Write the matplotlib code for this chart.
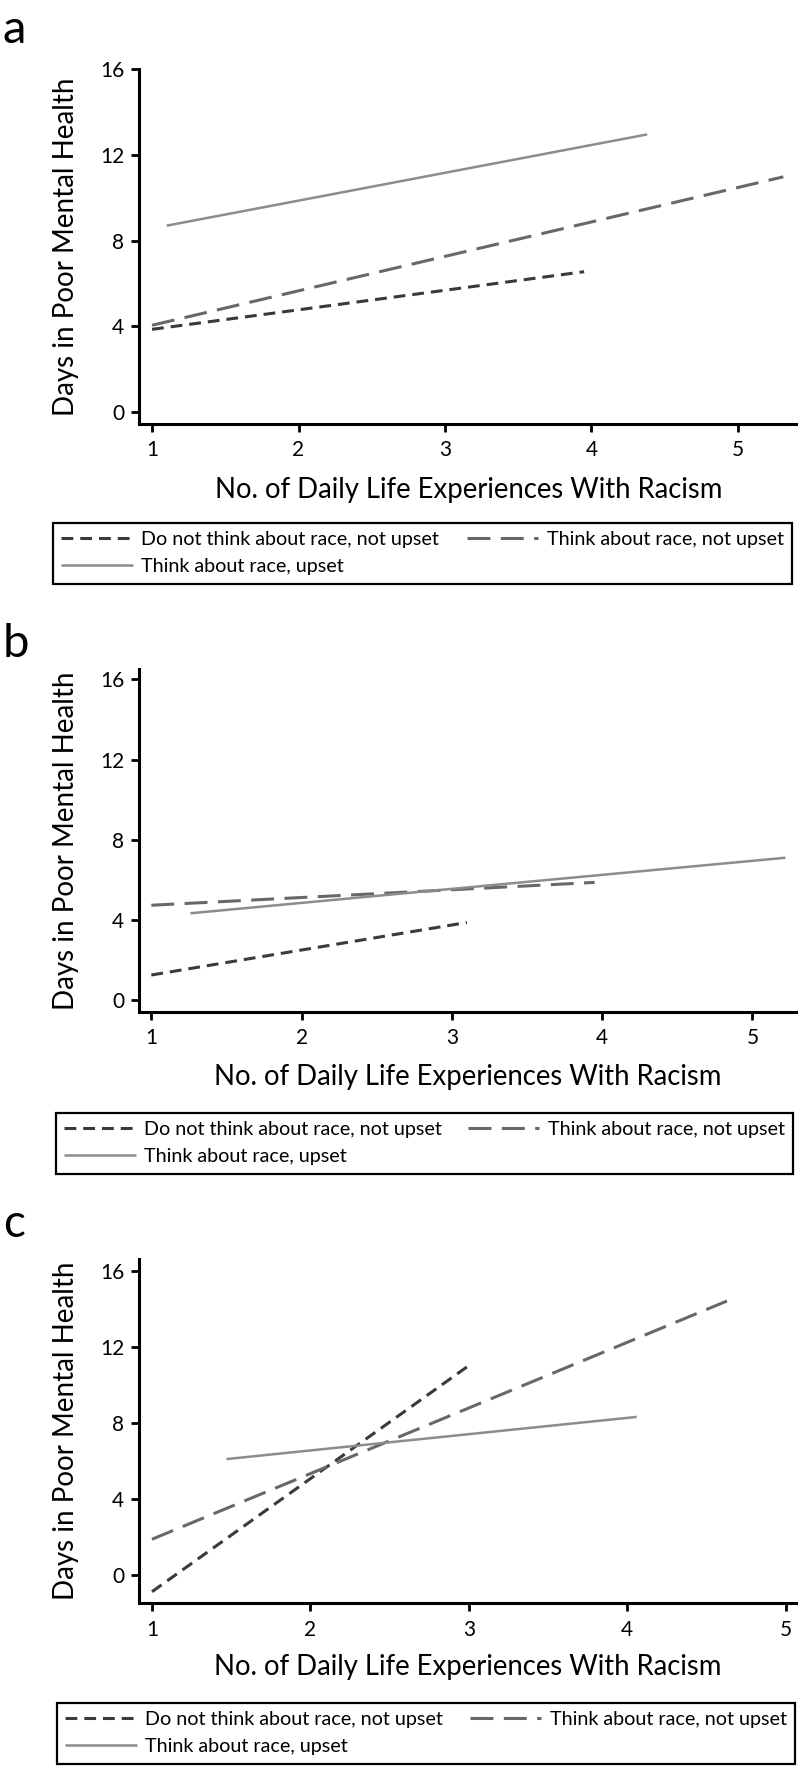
import matplotlib
matplotlib.use('Agg')
import matplotlib.pyplot as plt

plt.rcParams['font.family'] = ['Lato', 'DejaVu Sans']
plt.rcParams['lines.scale_dashes'] = False

# ---------------- data ----------------
series_labels = ["Do not think about race, not upset",
                 "Think about race, not upset",
                 "Think about race, upset"]
panel_letters = ["a", "b", "c"]
x_ticks = [1, 2, 3, 4, 5]
y_ticks = [0, 4, 8, 12, 16]
x_label = "No. of Daily Life Experiences With Racism"
y_label = "Days in Poor Mental Health"

# panel a
a_notthink_x = [1.0, 3.95]
a_notthink_y = [3.86, 6.55]
a_think_notupset_x = [1.0, 5.31]
a_think_notupset_y = [4.05, 10.98]
a_think_upset_x = [1.10, 4.38]
a_think_upset_y = [8.70, 12.96]
# panel b
b_notthink_x = [1.0, 3.10]
b_notthink_y = [1.25, 3.87]
b_think_notupset_x = [1.0, 3.95]
b_think_notupset_y = [4.73, 5.87]
b_think_upset_x = [1.26, 5.22]
b_think_upset_y = [4.33, 7.10]
# panel c
c_notthink_x = [1.0, 3.0]
c_notthink_y = [-0.88, 11.02]
c_think_notupset_x = [1.0, 4.63]
c_think_notupset_y = [1.88, 14.42]
c_think_upset_x = [1.47, 4.06]
c_think_upset_y = [6.10, 8.32]

data = {
    "a": [(a_notthink_x, a_notthink_y), (a_think_notupset_x, a_think_notupset_y), (a_think_upset_x, a_think_upset_y)],
    "b": [(b_notthink_x, b_notthink_y), (b_think_notupset_x, b_think_notupset_y), (b_think_upset_x, b_think_upset_y)],
    "c": [(c_notthink_x, c_notthink_y), (c_think_notupset_x, c_think_notupset_y), (c_think_upset_x, c_think_upset_y)],
}

# ---------------- styles / layout ----------------
W, H = 798, 1767
styles = [
    dict(color="#3a3a3a", lw=2.2, dashes=(8.5, 5.0)),
    dict(color="#686868", lw=2.2, dashes=(16.5, 7.5)),
    dict(color="#8c8c8c", lw=1.8, linestyle="-"),
]

layout = {
    "a": dict(ax=(139.3, 798.0, 69.3, 424.0), xlim=(0.913, 5.41), ylim=(-0.56, 16.0),
              letter=(3, 43, 34), xlab_y=490, leg=(53, 792, 523, 586)),
    "b": dict(ax=(139.3, 796.0, 669.3, 1011.7), xlim=(0.92, 5.29), ylim=(-0.58, 16.5),
              letter=(3, 657, 34), xlab_y=1077, leg=(56, 793, 1113, 1176)),
    "c": dict(ax=(139.3, 796.7, 1259.0, 1603.3), xlim=(0.92, 5.07), ylim=(-1.49, 16.63),
              letter=(3, 1237, 33), xlab_y=1667, leg=(57, 795, 1703, 1765)),
}

fig = plt.figure(figsize=(W / 100, H / 100), dpi=100)
renderer = fig.canvas.get_renderer()


def fit_size(text, target_px, base=20.0):
    t = fig.text(0, 0, text, fontsize=base)
    w = t.get_window_extent(renderer).width
    t.remove()
    return base * target_px / w


xlab_fs = fit_size(x_label, 510)
ylab_fs = fit_size(y_label, 338)
leg_fs = fit_size(series_labels[0], 300)
tick_fs = 15

for key in panel_letters:
    L = layout[key]
    l, r, t, b = L["ax"]
    ax = fig.add_axes([l / W, 1 - b / H, (r - l) / W, (b - t) / H])
    handles = []
    for (xs, ys), st, lab in zip(data[key], styles, series_labels):
        line, = ax.plot(xs, ys, label=lab, solid_capstyle="butt", dash_capstyle="butt", **st)
        handles.append(line)
    ax.set_xlim(*L["xlim"])
    ax.set_ylim(*L["ylim"])
    ax.set_xticks(x_ticks)
    ax.set_yticks(y_ticks)
    for s in ["top", "right"]:
        ax.spines[s].set_visible(False)
    for s in ["left", "bottom"]:
        ax.spines[s].set_linewidth(2.2)
        ax.spines[s].set_color("black")
    ax.tick_params(axis="both", which="major", length=5.8, width=2.0, labelsize=tick_fs, colors="black")
    ax.tick_params(axis="x", pad=6)
    ax.tick_params(axis="y", pad=5)
    ax.set_facecolor("none")

    # axis titles
    fig.text((l + r) / 2 / W, 1 - L["xlab_y"] / H, x_label, fontsize=xlab_fs,
             ha="center", va="center")
    fig.text(66 / W, 1 - (t + b) / 2 / H, y_label, fontsize=ylab_fs, rotation=90,
             ha="center", va="center")

    # panel letter
    lx, ly, lfs = L["letter"]
    fig.text(lx / W, 1 - ly / H, key, fontsize=lfs, ha="left", va="baseline")

    # legend (row-wise order like the original)
    gl, gr, gt, gb = L["leg"]
    order = [0, 2, 1]
    leg = fig.legend([handles[i] for i in order], [series_labels[i] for i in order],
                     loc="upper left",
                     bbox_to_anchor=(gl / W, 1 - gb / H, (gr - gl) / W, (gb - gt) / H),
                     bbox_transform=fig.transFigure, mode="expand", ncol=2,
                     fontsize=leg_fs, handlelength=3.6, handletextpad=0.45,
                     borderpad=0.42, labelspacing=0.5, borderaxespad=0.0,
                     columnspacing=1.0, fancybox=False, framealpha=1.0,
                     edgecolor="black")
    leg.get_frame().set_linewidth(1.6)

fig.savefig("out.png", dpi=100)
